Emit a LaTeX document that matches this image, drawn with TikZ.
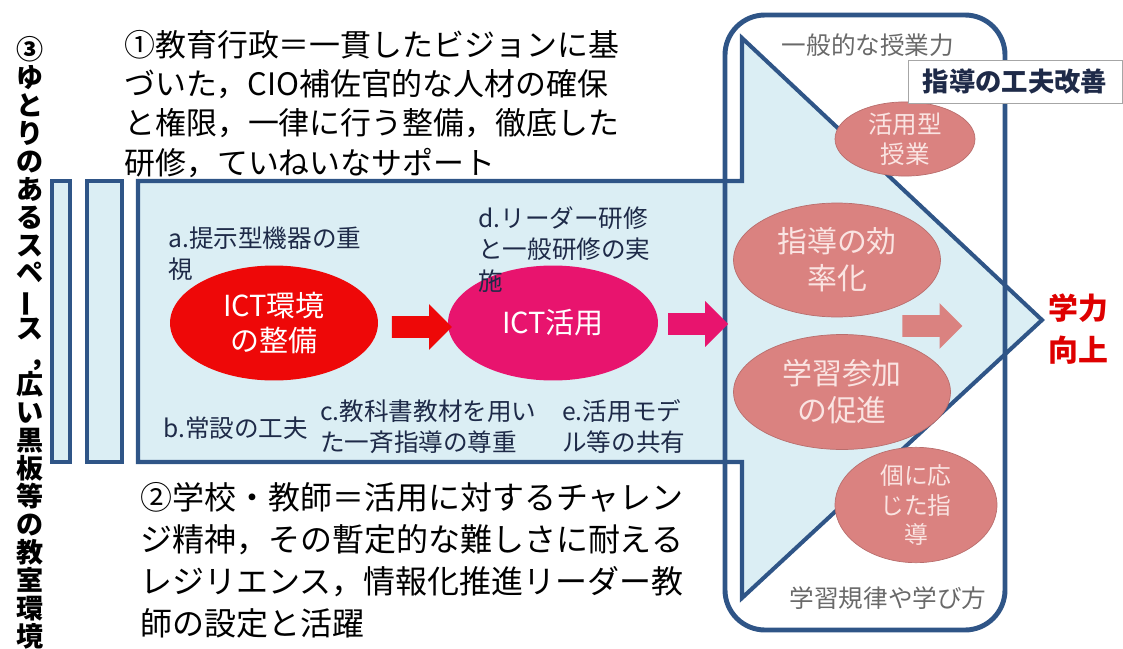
\documentclass[tikz,border=0pt]{standalone}
\usepackage{graphicx}
\usepackage{fontspec}
\setmainfont{Noto Sans CJK JP}
\usetikzlibrary{shapes.geometric,shapes.arrows,calc}

\definecolor{frameblue}{RGB}{47,85,135}
\definecolor{paleblue}{RGB}{219,238,244}
\definecolor{ictred}{RGB}{238,8,8}
\definecolor{ictpink}{RGB}{232,20,110}
\definecolor{salmon}{RGB}{218,130,128}
\definecolor{salmontext}{RGB}{250,228,226}
\definecolor{labelnavy}{RGB}{30,42,72}
\definecolor{softgray}{RGB}{105,105,105}
\definecolor{goalred}{RGB}{222,0,0}

\begin{document}
\begin{tikzpicture}[x=0.02cm,y=-0.02cm,
    frame/.style={draw=frameblue, line width=2.3pt, fill=paleblue},
    bubble/.style={ellipse, inner sep=0pt, align=center, text=white, font=\fontsize{16.5}{20}\selectfont},
    goalbubble/.style={ellipse, fill=salmon, draw=salmon!85!black, line width=0.4pt, inner sep=0pt, align=center, text=salmontext},
    blockarrow/.style={single arrow, inner xsep=0pt, inner ysep=0.21cm, minimum height=1.2cm, single arrow head extend=0.24cm},
    note/.style={text=labelnavy, font=\fontsize{14}{18}\selectfont, align=left, inner sep=0pt},
    bigtext/.style={align=left, inner sep=0pt, text=black}]
    \useasboundingbox (0,0) rectangle (1123,649);

    % Left bars
    \draw[frame] (52,181) rectangle (70,462);
    \draw[frame] (87,181) rectangle (122,462);

    % Big arrow
    \draw[frame, line join=miter] (138,181) -- (742,181) -- (742,38) -- (1042,320) -- (742,598) -- (742,462) -- (138,462) -- cycle;

    % Rounded frame
    \draw[draw=frameblue, line width=2.8pt, rounded corners=0.8cm] (725,15) rectangle (1005,630);

    % Vertical title
    \node[font=\bfseries\fontsize{15.4}{15.9}\selectfont, align=center, inner sep=0pt, anchor=north] (space) at (30,36)
        {③\\ゆ\\と\\り\\の\\あ\\る\\ス\\ペ\\\rotatebox[origin=c]{90}{ー}\\ス\\\makebox[1em][l]{\hspace{0.5em}，}\\広\\い\\黒\\板\\等\\の\\教\\室\\環\\境};

    % Top and bottom texts
    \node[bigtext, anchor=north west, font=\fontsize{17.6}{22.3}\selectfont] (admin) at (124,30)
        {①教育行政＝一貫したビジョンに基\\づいた，CIO補佐官的な人材の確保\\と権限，一律に行う整備，徹底した\\研修，ていねいなサポート};
    \node[bigtext, anchor=north west, font=\fontsize{18.2}{24}\selectfont] (school) at (140,482)
        {②学校・教師＝活用に対するチャレン\\ジ精神，その暫定的な難しさに耐える\\レジリエンス，情報化推進リーダー教\\師の設定と活躍};

    % ICT steps
    \node[bubble, fill=ictred, minimum width=4.16cm, minimum height=2.3cm] (env) at (274,323) {ICT環境\\の整備};
    \node[bubble, fill=ictpink, minimum width=4.2cm, minimum height=2.3cm] (use) at (553,323) {ICT活用};
    \coordinate (gate) at (727,325);
    \node[blockarrow, fill=ictred] (step1) at ($(env.east)!0.55!(use.west)+(0,4)$) {};
    \node[blockarrow, fill=ictpink] (step2) at ($(use.east)!0.5!(gate)$) {};

    % Labels in the arrow
    \node[note, anchor=north west] (la) at (168,226) {a.提示型機器の重\\視};
    \node[note, anchor=north west] (ld) at (478,206) {d.リーダー研修\\と一般研修の実\\施};
    \node[note, anchor=west] (lb) at (163,428) {b.常設の工夫};
    \node[note, anchor=north west] (lc) at (320,399) {c.教科書教材を用い\\た一斉指導の尊重};
    \node[note, anchor=north west] (le) at (562,399) {e.活用モデ\\ル等の共有};

    % Teaching improvements
    \node[goalbubble, minimum width=2.8cm, minimum height=1.45cm, font=\fontsize{14}{17}\selectfont] (katsuyo) at (905,139) {活用型\\授業};
    \node[goalbubble, minimum width=4.14cm, minimum height=2.28cm, font=\fontsize{17}{21}\selectfont] (koritsu) at (837,260) {指導の効\\率化};
    \node[goalbubble, minimum width=4.34cm, minimum height=2.3cm, font=\fontsize{17}{21}\selectfont] (sanka) at (842,392) {学習参加\\の促進};
    \node[goalbubble, minimum width=3.24cm, minimum height=1.88cm, font=\fontsize{13.5}{17}\selectfont] (koko) at (916,505) {個に応\\じた指\\導};
    \node[blockarrow, fill=salmon] (step3) at (927,326) {};

    \node[font=\fontsize{14}{17}\selectfont, text=softgray] (general) at (868,45) {一般的な授業力};
    \node[font=\fontsize{14}{17}\selectfont, text=softgray] (kiritsu) at (888,598) {学習規律や学び方};
    \node[draw=black!35, fill=white, line width=0.5pt, font=\bfseries\fontsize{15}{18}\selectfont, text=labelnavy,
          minimum width=4.28cm, minimum height=0.86cm] (kaizen) at (1015,82) {指導の工夫改善};
    \node[font=\bfseries\fontsize{17}{24}\selectfont, text=goalred, align=center, inner sep=0pt] (goal) at (1078,329) {学力\\向上};
\end{tikzpicture}
\end{document}
